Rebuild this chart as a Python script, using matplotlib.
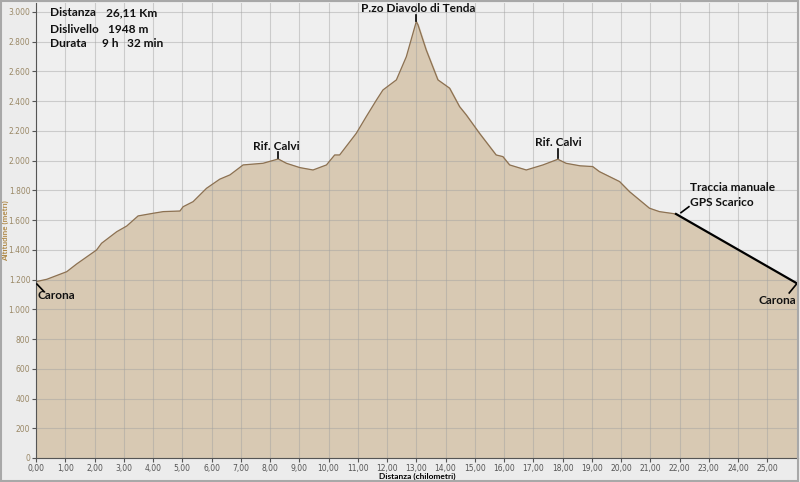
import matplotlib
matplotlib.use("Agg")
import matplotlib.pyplot as plt
from matplotlib.patches import Rectangle
from matplotlib.ticker import FuncFormatter, MultipleLocator

# profilo registrato (km, m)
dist = [0.0, 0.37, 1.05, 1.39, 2.07, 2.24, 2.76, 3.10, 3.49, 4.01, 4.35, 4.92,
        5.03, 5.37, 5.83, 6.28, 6.63, 7.08, 7.76, 8.28, 8.56, 9.02, 9.47, 9.93,
        10.21, 10.38, 10.95, 11.29, 11.64, 11.86, 12.32, 12.66, 13.0, 13.06,
        13.34, 13.74, 14.14, 14.48, 14.71, 15.16, 15.73, 15.96, 16.19, 16.76,
        17.33, 17.84, 18.12, 18.6, 19.03, 19.26, 19.95, 20.29, 20.97, 21.31, 21.88]
quota = [1186, 1202, 1253, 1305, 1399, 1444, 1522, 1560, 1628, 1646, 1657, 1661,
         1690, 1724, 1814, 1875, 1904, 1971, 1982, 2011, 1982, 1953, 1937, 1971,
         2038, 2038, 2184, 2296, 2408, 2475, 2543, 2699, 2935, 2912,
         2744, 2543, 2487, 2363, 2307, 2184, 2038, 2027, 1971, 1937,
         1971, 2009, 1982, 1965, 1960, 1926, 1859, 1791, 1680, 1657, 1641]

# tratto tracciato a mano (GPS scarico)
dist_man = [21.88, 26.0]
quota_man = [1641, 1176]

fig = plt.figure(figsize=(8, 4.82), dpi=100, facecolor='#ececec')
ax = fig.add_axes([0.045, 0.0498, 0.9525, 0.944])
ax.set_facecolor('#efefef')
fig.patches.append(Rectangle((0.001, 0.002), 0.997, 0.996, transform=fig.transFigure,
                             fill=False, edgecolor='#a8a8a8', lw=1.5))

ax.fill_between(dist + dist_man[1:], quota + quota_man[1:], color='#d8c9b3', zorder=1)
ax.plot(dist, quota, color='#8c7152', lw=0.9, zorder=3)
ax.plot(dist_man, quota_man, color='black', lw=1.6, zorder=3)

ax.set_xlim(0, 26.05)
ax.set_ylim(0, 3060)
ax.yaxis.set_major_locator(MultipleLocator(200))
ax.set_xticks([i for i in range(26)])
ax.xaxis.set_major_formatter(FuncFormatter(lambda v, p: f'{v:.2f}'.replace('.', ',')))
ax.yaxis.set_major_formatter(FuncFormatter(lambda v, p: f'{int(v):,}'.replace(',', '.')))
ax.grid(True, color='#a0a0a0', alpha=0.45, lw=0.8, zorder=2)
ax.set_axisbelow(False)
ax.tick_params(axis='x', labelsize=5.5, colors='#555555', length=3, pad=1)
ax.tick_params(axis='y', labelsize=5.5, labelcolor='#9a8866', color='#555555', length=3, pad=1)
for s in ['top', 'right']:
    ax.spines[s].set_visible(False)
for s in ['left', 'bottom']:
    ax.spines[s].set_color('#555555')
    ax.spines[s].set_zorder(4)

ax.set_xlabel('Distanza (chilometri)', family='Lato', fontsize=6, fontweight='bold')
ax.xaxis.set_label_coords(0.5, -0.033)
ax.set_ylabel('Altitudine (metri)', family='Lato', fontsize=5.8, color='#b08a4a', fontweight='bold')
ax.yaxis.set_label_coords(-0.036, 0.5)

fnt = dict(family='Lato', fontweight='bold', fontsize=8.6, color='#111111', zorder=5)
ax.text(0.48, 2993, 'Distanza', va='center', **fnt)
ax.text(2.4, 2993, '26,11 Km', va='center', **fnt)
ax.text(0.48, 2885, 'Dislivello', va='center', **fnt)
ax.text(2.45, 2885, '1948 m', va='center', **fnt)
ax.text(0.48, 2785, 'Durata', va='center', **fnt)
ax.text(2.25, 2785, '9 h', va='center', **fnt)
ax.text(3.1, 2785, '32 min', va='center', **fnt)

# etichette dei punti
ax.text(0.05, 1090, 'Carona', ha='left', va='center', **fnt)
ax.plot([0.03, 0.27], [1170, 1120], color='black', lw=1.2, zorder=5)
ax.text(26.0, 1060, 'Carona', ha='right', va='center', **fnt)
ax.plot([26.0, 25.75], [1170, 1110], color='black', lw=1.2, zorder=5)

ax.text(8.22, 2095, 'Rif. Calvi', ha='center', va='center', **fnt)
ax.plot([8.28, 8.28], [2020, 2060], color='black', lw=1.2, zorder=5)
ax.text(17.85, 2120, 'Rif. Calvi', ha='center', va='center', **fnt)
ax.plot([17.84, 17.84], [2020, 2075], color='black', lw=1.2, zorder=5)
ax.text(13.05, 3020, 'P.zo Diavolo di Tenda', ha='center', va='center', **fnt)
ax.plot([13.0, 13.0], [2940, 2980], color='black', lw=1.2, zorder=5)

ax.text(22.35, 1820, 'Traccia manuale', ha='left', va='center', **fnt)
ax.text(22.35, 1720, 'GPS Scarico', ha='left', va='center', **fnt)
ax.plot([22.05, 22.32], [1650, 1690], color='black', lw=1.2, zorder=5)

fig.savefig('out.png', dpi=100, facecolor=fig.get_facecolor())
